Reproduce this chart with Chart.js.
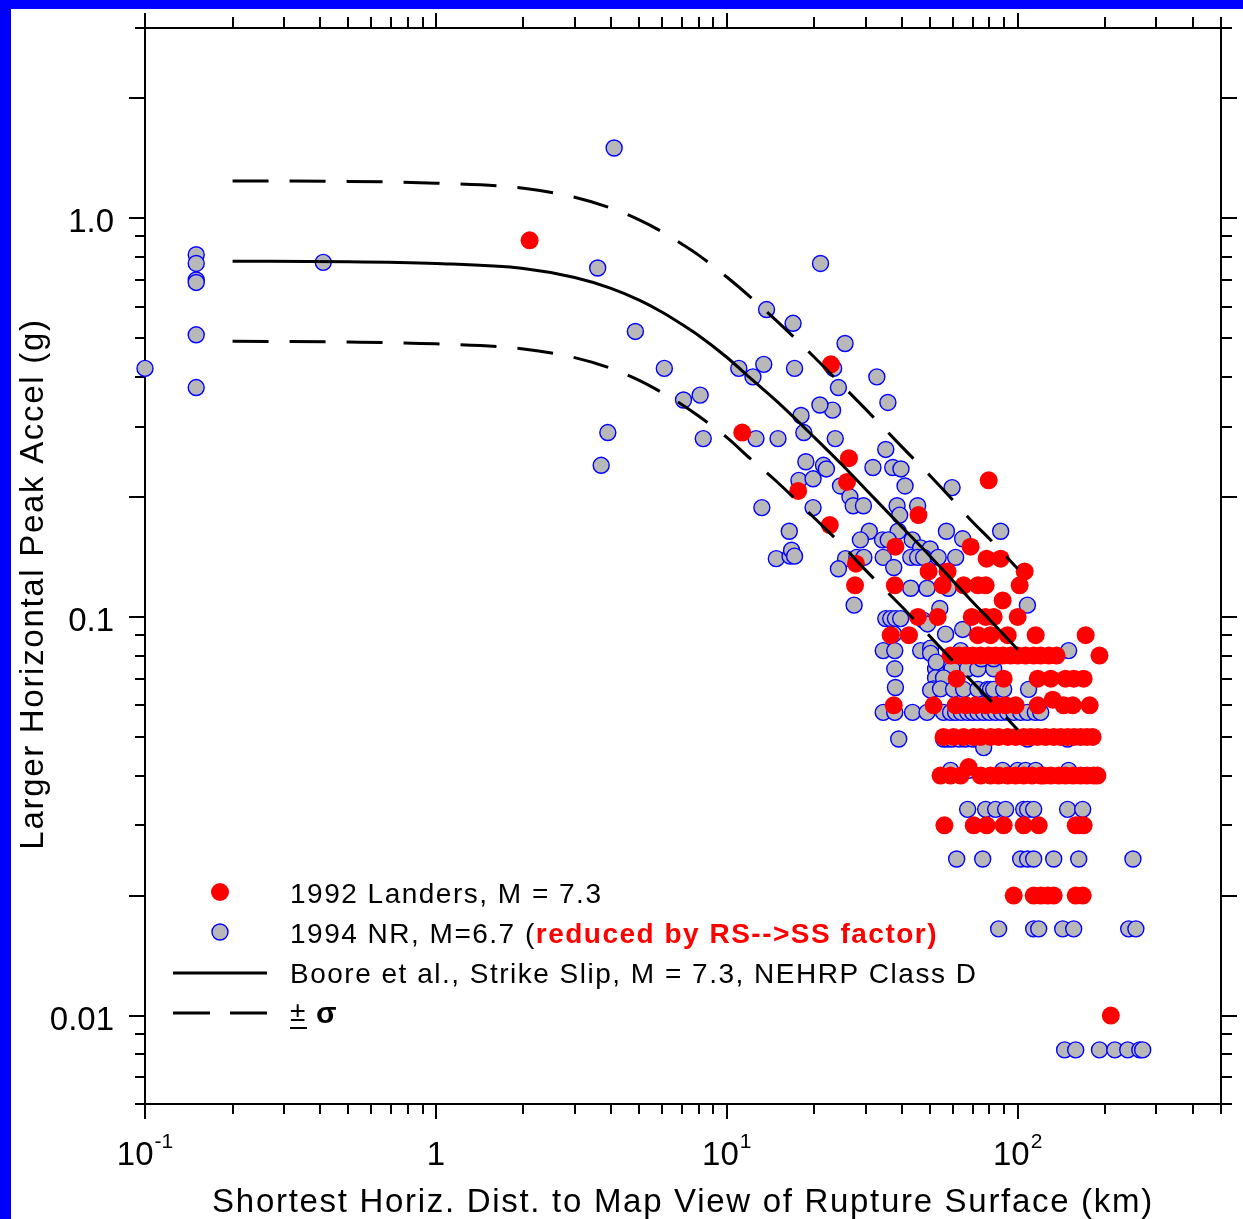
<!DOCTYPE html>
<html>
<head>
<meta charset="utf-8">
<script src="https://cdn.jsdelivr.net/npm/chart.js@4.4.1/dist/chart.umd.min.js"></script>
<style>
  html, body { margin: 0; padding: 0; background: #fff; }
  #wrap { position: relative; width: 1243px; height: 1219px; }
</style>
</head>
<body>
<div id="wrap"><canvas id="pgaChart"></canvas></div>
<script>
// 1992 Landers, M = 7.3 (distance km, PGA g)
const landersDist = [
  2.1, 11.3, 17.6, 22.8, 22.6, 26.3, 25.9, 27.8, 27.6, 45.6, 79.5,
  38.0, 68.9, 78.2, 87.4, 49.4, 57.4, 105.7,
  37.8, 55.2, 65.2, 73.0, 77.6, 101.6, 88.8,
  45.4, 53.1, 69.5, 77.6, 82.7, 100,
  36.6, 42.3, 73.0, 80.7, 92.4, 115.3, 171.3,
  58.8, 62.7, 66.3, 70.0, 74.6, 79.5, 84.0, 88.8, 94.6, 100, 106.5, 113.5, 120, 128, 136, 191.1,
  61.7, 89.5, 117.2, 130, 146, 156, 168.6,
  37.5, 51.4, 61.2, 66.3, 71.7, 77.6, 84.0, 90.9, 98.4, 117.2, 132, 143.9, 154.6, 176.8,
  55.6, 60.2, 65.2, 70.6, 74.6, 80.7, 86.0, 92.4, 98.4, 104.9, 110.8, 117.2, 124.8, 133, 140.6, 148.5, 156, 164.7, 173, 181,
  54.3, 58.8, 63.7, 67.8, 74.6, 80.7, 86.0, 92.4, 98.4, 104.9, 112, 120, 122.9, 130, 138.4, 146, 155, 164.7, 173, 182.5, 188,
  56.0, 70.6, 78.2, 89.5, 104.9, 118.1, 158.3, 163, 168.6,
  96.9, 113.5, 120, 127, 133, 158.3, 167.3,
  209
];
const landersPga = [
  0.88, 0.29, 0.207, 0.43, 0.17, 0.25, 0.218, 0.136, 0.12, 0.18, 0.22,
  0.15, 0.15, 0.14, 0.14, 0.13, 0.13, 0.13,
  0.12, 0.12, 0.12, 0.12, 0.12, 0.12, 0.11,
  0.1, 0.1, 0.1, 0.1, 0.1, 0.1,
  0.09, 0.09, 0.09, 0.09, 0.09, 0.09, 0.09,
  0.08, 0.08, 0.08, 0.08, 0.08, 0.08, 0.08, 0.08, 0.08, 0.08, 0.08, 0.08, 0.08, 0.08, 0.08, 0.08,
  0.07, 0.07, 0.07, 0.07, 0.07, 0.07, 0.07,
  0.06, 0.06, 0.06, 0.06, 0.06, 0.06, 0.06, 0.06, 0.06, 0.06, 0.062, 0.06, 0.06, 0.06,
  0.05, 0.05, 0.05, 0.05, 0.05, 0.05, 0.05, 0.05, 0.05, 0.05, 0.05, 0.05, 0.05, 0.05, 0.05, 0.05, 0.05, 0.05, 0.05, 0.05,
  0.04, 0.04, 0.04, 0.042, 0.04, 0.04, 0.04, 0.04, 0.04, 0.04, 0.04, 0.04, 0.04, 0.04, 0.04, 0.04, 0.04, 0.04, 0.04, 0.04, 0.04,
  0.03, 0.03, 0.03, 0.03, 0.03, 0.03, 0.03, 0.03, 0.03,
  0.02, 0.02, 0.02, 0.02, 0.02, 0.02, 0.02,
  0.01
];

// 1994 Northridge, M = 6.7, reduced by RS->SS factor
const nrDist = [
  0.1, 0.15, 0.15, 0.15, 0.15, 0.15, 0.15, 0.41, 4.1, 3.6, 4.85, 3.9, 3.7, 6.1, 7.1, 8.1, 8.3,
  11, 12.3, 13.4, 12.6, 15, 13.7, 16.9, 21, 17.1, 25.5, 23.1, 24.2, 20.9, 18, 32.8, 35.8, 35.2, 23.3,
  18.4, 23.6, 18.7, 21.5, 22, 17.7, 19.8, 24.6, 26.5, 27.2, 29.5, 31.8, 37.2, 39.7, 41, 59.5, 13.2, 19.8, 38.5, 39.3, 45.3,
  16.4, 30.9, 38.8, 56.9, 87.4, 28.8, 34.3, 35.9, 43.4, 46.4, 50, 64.7, 14.8, 16.5, 16.7, 17.1,
  25.6, 28, 29.6, 34.5, 37.5, 42.9, 45.3, 47.5, 53.3, 61.2, 24.2,
  42.9, 48.8, 57.7, 27.4, 54, 108, 35.2, 36.6, 38, 39.6, 47.5, 49, 37.5, 56.5, 64.7,
  34.5, 37.8, 46.4, 50.2, 50.2, 63.7, 149.7,
  37.8, 52.2, 52.5, 59.5, 67.3, 73, 82.7, 52.2, 55.6, 75, 82.7,
  38, 51.4, 50.2, 54.3, 60.2, 65.2, 73, 78.8, 80.7, 82.7, 89.5, 109,
  34.5, 37.8, 43.5, 48.8, 55.6, 58.8, 61.2, 64, 67.3, 70, 73, 76.4, 80, 84, 88, 92.4, 97, 102.4, 108, 115, 120,
  39, 55.6, 57.4, 59.5, 63, 66, 70, 73, 76.4, 108.2, 148.5,
  58.8, 67.8, 88.8, 100, 106.5, 115.3, 149.7,
  67.3, 77.6, 84, 90.9, 104.9, 108.2, 113.5, 148.5, 167.3,
  61.7, 75.8, 102.4, 108.2, 113.5, 133, 162.1, 249,
  86, 113.5, 118.1, 142.8, 155.8, 240.8, 254.9,
  145, 158.3, 191.1, 215.7, 239, 262.9, 269
];
const nrPga = [
  0.42, 0.81, 0.77, 0.70, 0.69, 0.51, 0.376, 0.775, 1.5, 0.75, 0.52, 0.29, 0.24, 0.42, 0.35, 0.36, 0.28,
  0.42, 0.40, 0.43, 0.28, 0.28, 0.59, 0.545, 0.77, 0.42, 0.485, 0.33, 0.376, 0.34, 0.32, 0.40, 0.345, 0.263, 0.42,
  0.29, 0.28, 0.245, 0.24, 0.235, 0.22, 0.222, 0.213, 0.2, 0.19, 0.19, 0.237, 0.237, 0.235, 0.213, 0.211, 0.188, 0.188, 0.19, 0.18, 0.19,
  0.164, 0.164, 0.164, 0.164, 0.164, 0.156, 0.156, 0.156, 0.156, 0.149, 0.148, 0.157, 0.14, 0.142, 0.147, 0.142,
  0.14, 0.141, 0.141, 0.141, 0.133, 0.141, 0.141, 0.141, 0.141, 0.141, 0.132,
  0.118, 0.118, 0.118, 0.107, 0.105, 0.107, 0.099, 0.099, 0.099, 0.099, 0.098, 0.096, 0.0905, 0.0905, 0.093,
  0.0823, 0.0823, 0.0823, 0.0835, 0.081, 0.0823, 0.0823,
  0.0741, 0.0741, 0.077, 0.0741, 0.0741, 0.0741, 0.0741, 0.0703, 0.0703, 0.0785, 0.0785,
  0.0665, 0.066, 0.0655, 0.066, 0.0658, 0.0658, 0.0658, 0.0658, 0.0658, 0.0658, 0.0658, 0.0658,
  0.0576, 0.0576, 0.0576, 0.0576, 0.0576, 0.0576, 0.0576, 0.0576, 0.0576, 0.0576, 0.0576, 0.0576, 0.0576, 0.0576, 0.0576, 0.0576, 0.0576, 0.0576, 0.0576, 0.0576, 0.0576,
  0.0494, 0.0494, 0.0494, 0.0494, 0.0494, 0.0494, 0.0494, 0.0494, 0.047, 0.0494, 0.0494,
  0.0412, 0.0412, 0.0412, 0.0412, 0.0412, 0.0412, 0.0412,
  0.0329, 0.0329, 0.0329, 0.0329, 0.0329, 0.0329, 0.0329, 0.0329, 0.0329,
  0.0247, 0.0247, 0.0247, 0.0247, 0.0247, 0.0247, 0.0247, 0.0247,
  0.0165, 0.0165, 0.0165, 0.0165, 0.0165, 0.0165, 0.0165,
  0.0082, 0.0082, 0.0082, 0.0082, 0.0082, 0.0082, 0.0082
];

// Boore et al. curve (median and +/- sigma)
const curveDist   = [0.2, 0.5, 1, 2, 3, 4, 5, 6, 7, 8, 10, 12, 15, 20, 25, 30, 40, 50, 60, 70, 80, 100];
const booreMedian = [0.78, 0.778, 0.77, 0.748, 0.71, 0.667, 0.623, 0.581, 0.542, 0.508, 0.448, 0.398, 0.345, 0.282, 0.24, 0.209, 0.168, 0.142, 0.123, 0.109, 0.0985, 0.0828];
const booreUpper  = [1.24, 1.237, 1.224, 1.189, 1.129, 1.06, 0.99, 0.924, 0.862, 0.808, 0.712, 0.636, 0.549, 0.448, 0.38, 0.332, 0.267, 0.226, 0.196, 0.173, 0.157, 0.132];
const booreLower  = [0.491, 0.489, 0.484, 0.47, 0.447, 0.42, 0.392, 0.365, 0.341, 0.319, 0.282, 0.25, 0.217, 0.177, 0.151, 0.131, 0.106, 0.0893, 0.0774, 0.0686, 0.062, 0.0521];

// axis labels
const xTickValues = [0.1, 1, 10, 100];
const xTickLabels = [['10', '-1'], ['1', ''], ['10', '1'], ['10', '2']];
const yTickValues = [1.0, 0.1, 0.01];
const yTickLabels = ['1.0', '0.1', '0.01'];

const FONT = '"Liberation Sans", Arial, sans-serif';
const GRAY = '#b8b8b8';

const toPoints = (xs, ys) => xs.map((x, i) => ({ x: x, y: ys[i] }));

// tick marks: every 1..9 step of each decade inside the range
function logMarks(min, max) {
  const marks = [];
  for (let e = -3; e <= 3; e++) {
    for (let m = 1; m <= 9; m++) {
      const v = +(m * Math.pow(10, e)).toPrecision(3);
      if (v >= min * 0.999 && v <= max * 1.001) marks.push({ v: v, m: m });
    }
  }
  return marks;
}

const framePlugin = {
  id: 'framePlugin',
  beforeDraw(chart) {
    const ctx = chart.ctx;
    ctx.save();
    ctx.fillStyle = '#ffffff';
    ctx.fillRect(0, 0, chart.width, chart.height);
    ctx.fillStyle = '#0000ff';
    ctx.fillRect(0, 0, chart.width, 9);
    ctx.fillRect(0, 0, 11, chart.height);
    ctx.restore();
  },
  beforeDatasetsDraw(chart) {
    const ctx = chart.ctx;
    const a = chart.chartArea;
    const xs = chart.scales.x, ys = chart.scales.y;
    ctx.save();
    ctx.strokeStyle = '#000';
    ctx.lineWidth = 2;
    ctx.strokeRect(a.left, a.top, a.right - a.left, a.bottom - a.top);
    ctx.beginPath();
    logMarks(0.1, 500).forEach(t => {
      const px = Math.round(xs.getPixelForValue(t.v));
      const big = t.m === 1;
      ctx.moveTo(px, a.bottom); ctx.lineTo(px, a.bottom + (big ? 15 : 10));
      ctx.moveTo(px, a.top); ctx.lineTo(px, a.top - (big ? 15 : 11));
    });
    logMarks(0.006, 3).forEach(t => {
      const py = Math.round(ys.getPixelForValue(t.v));
      const big = t.m === 1 || t.m === 2;
      ctx.moveTo(a.left, py); ctx.lineTo(a.left - (big ? 16 : 10), py);
      ctx.moveTo(a.right, py); ctx.lineTo(a.right + (big ? 16 : 11), py);
    });
    ctx.stroke();
    ctx.restore();
  },
  afterDraw(chart) {
    const ctx = chart.ctx;
    const a = chart.chartArea;
    const xs = chart.scales.x, ys = chart.scales.y;
    ctx.save();
    ctx.fillStyle = '#000';

    // y tick labels
    ctx.font = '33px ' + FONT;
    ctx.textAlign = 'right';
    ctx.textBaseline = 'alphabetic';
    yTickValues.forEach((v, i) => {
      ctx.fillText(yTickLabels[i], 114, ys.getPixelForValue(v) + 14);
    });

    // x tick labels with superscripts
    ctx.textAlign = 'left';
    xTickValues.forEach((v, i) => {
      const [base, sup] = xTickLabels[i];
      ctx.font = '33px ' + FONT;
      const wb = ctx.measureText(base).width;
      ctx.font = '21px ' + FONT;
      const ws = sup ? ctx.measureText(sup).width + 1 : 0;
      const x0 = xs.getPixelForValue(v) - (wb + ws) / 2;
      ctx.font = '33px ' + FONT;
      ctx.fillText(base, x0, 1165);
      if (sup) {
        ctx.font = '21px ' + FONT;
        ctx.fillText(sup, x0 + wb + 1, 1148);
      }
    });

    // axis titles
    ctx.font = '33px ' + FONT;
    ctx.letterSpacing = '1.7px';
    ctx.textAlign = 'center';
    ctx.fillText('Shortest Horiz. Dist. to Map View of Rupture Surface (km)', (a.left + a.right) / 2, 1212);
    ctx.save();
    ctx.translate(43, 584);
    ctx.rotate(-Math.PI / 2);
    ctx.fillText('Larger Horizontal Peak Accel (g)', 0, 0);
    ctx.restore();

    // legend
    ctx.fillStyle = '#ff0000';
    ctx.beginPath(); ctx.arc(220, 892, 9, 0, Math.PI * 2); ctx.fill();
    ctx.fillStyle = GRAY;
    ctx.strokeStyle = '#0000ff';
    ctx.lineWidth = 1.4;
    ctx.beginPath(); ctx.arc(220, 932, 8, 0, Math.PI * 2); ctx.fill(); ctx.stroke();
    ctx.strokeStyle = '#000';
    ctx.lineWidth = 3;
    ctx.beginPath();
    ctx.moveTo(173, 973); ctx.lineTo(267, 973);
    ctx.moveTo(173, 1013); ctx.lineTo(210, 1013);
    ctx.moveTo(230, 1013); ctx.lineTo(267, 1013);
    ctx.stroke();

    ctx.textAlign = 'left';
    ctx.letterSpacing = '1.5px';
    ctx.font = '28px ' + FONT;
    ctx.fillStyle = '#000';
    ctx.fillText('1992 Landers, M = 7.3', 290, 903);
    const part1 = '1994 NR, M=6.7 (';
    ctx.fillText(part1, 290, 943);
    const w1 = ctx.measureText(part1).width;
    ctx.font = 'bold 28px ' + FONT;
    ctx.fillStyle = '#ff0000';
    ctx.fillText('reduced by RS-->SS factor)', 290 + w1, 943);
    ctx.font = '28px ' + FONT;
    ctx.fillStyle = '#000';
    ctx.fillText('Boore et al., Strike Slip, M = 7.3, NEHRP Class D', 290, 983);
    ctx.fillText('\u00b1', 290, 1021);
    ctx.lineWidth = 2;
    ctx.beginPath(); ctx.moveTo(290, 1028); ctx.lineTo(307, 1028); ctx.stroke();
    ctx.font = 'bold 30px ' + FONT;
    ctx.fillText('\u03c3', 316, 1023);
    ctx.restore();
  }
};

const ctx = document.getElementById('pgaChart').getContext('2d');

const config = {
  type: 'scatter',
  data: {
    datasets: [
      {
        type: 'line',
        label: 'Boore et al.',
        data: toPoints(curveDist, booreMedian),
        borderColor: '#000', borderWidth: 3,
        pointRadius: 0, fill: false,
        cubicInterpolationMode: 'monotone',
        order: 0
      },
      {
        type: 'line',
        label: '+sigma',
        data: toPoints(curveDist, booreUpper),
        borderColor: '#000', borderWidth: 3, borderDash: [36, 21],
        pointRadius: 0, fill: false,
        cubicInterpolationMode: 'monotone',
        order: 0
      },
      {
        type: 'line',
        label: '-sigma',
        data: toPoints(curveDist, booreLower),
        borderColor: '#000', borderWidth: 3, borderDash: [36, 21],
        pointRadius: 0, fill: false,
        cubicInterpolationMode: 'monotone',
        order: 0
      },
      {
        label: '1992 Landers, M = 7.3',
        data: toPoints(landersDist, landersPga),
        backgroundColor: '#ff0000',
        borderWidth: 0,
        pointRadius: 9,
        clip: false,
        order: 1
      },
      {
        label: '1994 NR, M=6.7',
        data: toPoints(nrDist, nrPga),
        backgroundColor: GRAY,
        borderColor: '#0000ff',
        borderWidth: 1.4,
        pointRadius: 8,
        clip: false,
        order: 2
      }
    ]
  },
  options: {
    responsive: true,
    maintainAspectRatio: false,
    animation: false,
    layout: { padding: { left: 145, top: 28, right: 22, bottom: 115 } },
    plugins: { legend: { display: false }, tooltip: { enabled: false } },
    scales: {
      x: { type: 'logarithmic', min: 0.1, max: 500, display: false },
      y: { type: 'logarithmic', min: 0.006, max: 3, display: false }
    }
  },
  plugins: [framePlugin]
};

const pgaChart = new Chart(ctx, config);
</script>
</body>
</html>
